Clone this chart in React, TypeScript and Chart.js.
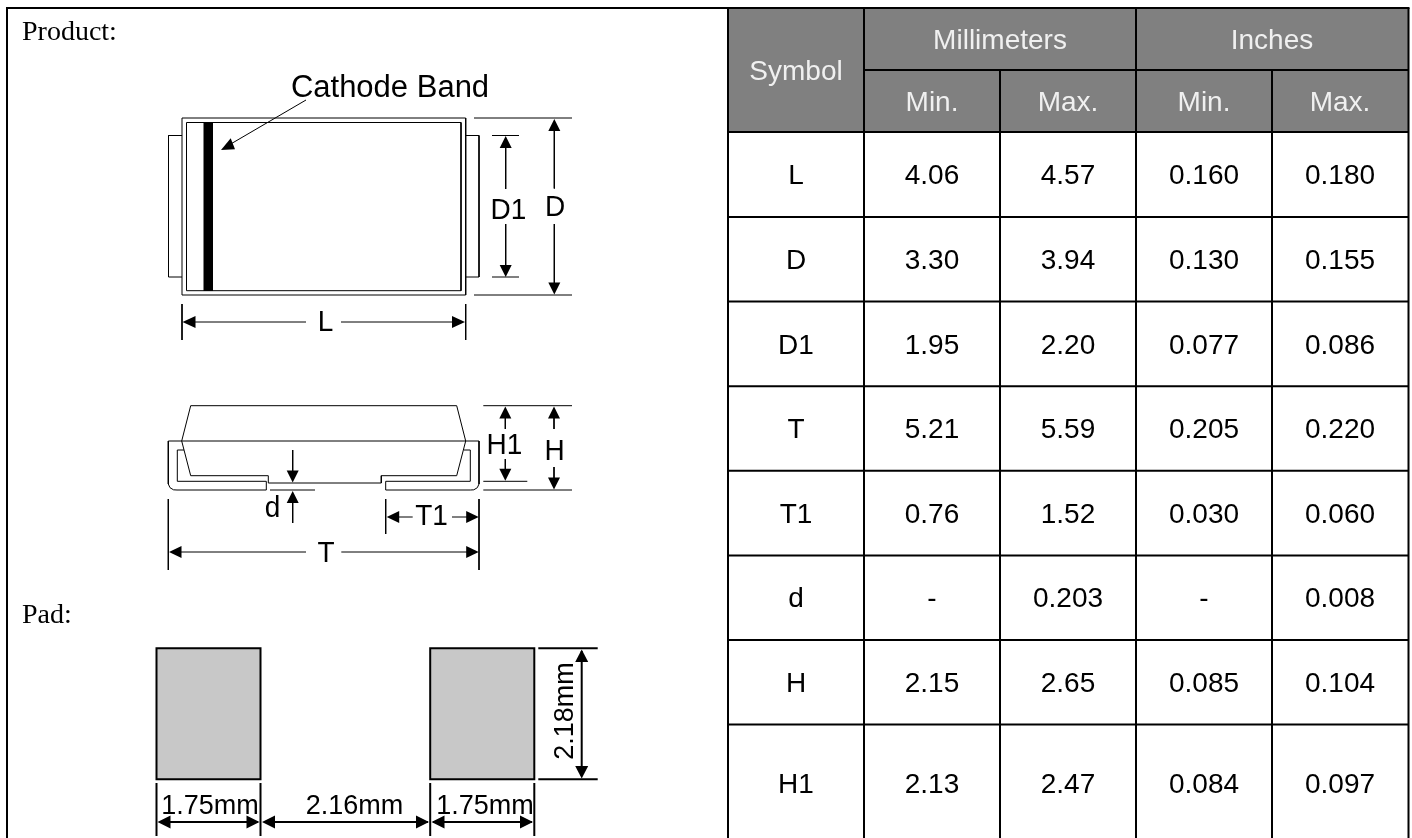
import React, { useEffect, useRef } from "react";
import { Chart, registerables } from "chart.js";

Chart.register(...registerables);

// ---- table contents ----
const symbols = ["L", "D", "D1", "T", "T1", "d", "H", "H1"];
const mmMin = ["4.06", "3.30", "1.95", "5.21", "0.76", "-", "2.15", "2.13"];
const mmMax = ["4.57", "3.94", "2.20", "5.59", "1.52", "0.203", "2.65", "2.47"];
const inMin = ["0.160", "0.130", "0.077", "0.205", "0.030", "-", "0.085", "0.084"];
const inMax = ["0.180", "0.155", "0.086", "0.220", "0.060", "0.008", "0.104", "0.097"];
const rowBaselines = [184.3, 268.9, 353.5, 438, 522.6, 607.2, 691.7, 792.7];
const columnCentres = [796, 932, 1068, 1204, 1340];
const rowRules = [132, 217, 301.6, 386.2, 470.8, 555.4, 640, 724.6];

// ---- drawing geometry, as flat x,y lists ----
const frameLines: number[][] = [
  [6, 8, 1409.5, 8],
  [7, 8, 7, 838],
  [728, 8, 728, 838],
  [864, 8, 864, 838],
  [1000, 70, 1000, 838],
  [1136, 8, 1136, 838],
  [1272, 70, 1272, 838],
  [1408.5, 8, 1408.5, 838],
  [864, 70, 1408.5, 70],
  [156.5, 648.3, 260.5, 648.3, 260.5, 779.3, 156.5, 779.3, 156.5, 647.3],
  [430.2, 648.3, 534.3, 648.3, 534.3, 779.3, 430.2, 779.3, 430.2, 647.3],
  [156.5, 783, 156.5, 836],
  [260.5, 783, 260.5, 836],
  [430.2, 783, 430.2, 836],
  [534.3, 783, 534.3, 836],
  [160, 822, 258, 822],
  [264, 822, 428, 822],
  [433, 822, 532, 822],
  [538.3, 648.3, 597.7, 648.3],
  [538.3, 779.3, 597.7, 779.3],
  [581.7, 651, 581.7, 776],
];
const thinLines: number[][] = [
  [182, 118, 465.7, 118, 465.7, 295, 182, 295, 182, 118],
  [186.5, 122.5, 461, 122.5, 461, 290.7, 186.5, 290.7, 186.5, 122.5],
  [182, 135.5, 168.5, 135.5, 168.5, 277, 182, 277],
  [465.7, 135.5, 479, 135.5, 479, 277, 465.7, 277],
  [306, 100, 229, 145],
  [182, 304, 182, 340],
  [465.7, 304, 465.7, 340],
  [190, 322, 306, 322],
  [341, 322, 455, 322],
  [492, 135.5, 519, 135.5],
  [492, 277, 519, 277],
  [505.7, 140, 505.7, 189],
  [505.7, 224, 505.7, 272],
  [474, 118, 572, 118],
  [474, 295, 572, 295],
  [554.3, 125, 554.3, 188.5],
  [554.3, 224, 554.3, 288],
  [181.7, 441, 190.7, 405.7, 456.7, 405.7, 465.7, 441, 456.7, 475.7, 381.3, 475.7, 381.3, 483, 268.3, 483, 268.3, 475.7, 190.7, 475.7, 181.7, 441],
  [168.3, 441, 479, 441],
  [168.3, 441, 168.3, 484, 170, 487.7, 173.5, 489.8, 177, 490, 266.3, 490, 266.3, 481.3, 177.3, 481.3, 177.3, 450, 184, 450],
  [479, 441, 479, 484, 477.3, 487.7, 473.8, 489.8, 470.3, 490, 385.7, 490, 385.7, 481.3, 470.3, 481.3, 470.3, 450, 464, 450],
  [292.7, 450, 292.7, 475],
  [270, 490, 315, 490],
  [292.7, 498, 292.7, 523],
  [168.3, 499, 168.3, 570],
  [479, 499, 479, 570],
  [175, 552, 306, 552],
  [341.3, 552, 472, 552],
  [385.7, 499, 385.7, 534],
  [393, 517, 412.7, 517],
  [452, 517, 472, 517],
  [483.3, 405.7, 572, 405.7],
  [483.3, 481.3, 527.3, 481.3],
  [483.3, 490, 572, 490],
  [505.3, 412, 505.3, 429],
  [505.3, 459, 505.3, 475],
  [554, 412, 554, 429],
  [554, 467, 554, 484],
];
// tip x, tip y, direction (0 right, 1 down, 2 left, 3 up), length, half width
const arrowHeads: number[][] = [
  [182.5, 322, 2, 13, 6], [465, 322, 0, 13, 6],
  [505.7, 136, 3, 12, 6], [505.7, 277, 1, 12, 6],
  [554.3, 119, 3, 12, 6], [554.3, 294.5, 1, 12, 6],
  [292.7, 482.5, 1, 12, 6], [292.7, 491, 3, 12, 6],
  [169, 552, 2, 12.5, 6], [478.7, 552, 0, 12.5, 6],
  [386.7, 517, 2, 12.5, 6], [478.7, 517, 0, 12.5, 6],
  [505.3, 406.5, 3, 12, 6], [505.3, 480.7, 1, 12, 6],
  [554, 406.5, 3, 12, 6], [554, 489.5, 1, 12, 6],
  [157.5, 822, 2, 13, 6.5], [259.5, 822, 0, 13, 6.5],
  [262, 822, 2, 13, 6.5], [429, 822, 0, 13, 6.5],
  [431.5, 822, 2, 13, 6.5], [533, 822, 0, 13, 6.5],
  [581.7, 649.5, 3, 12.5, 6.5], [581.7, 778.5, 1, 12.5, 6.5],
];
const cathodeLeaderHead = [221, 150, 230.7, 138.3, 235, 149.3, 221, 150];
const cathodeBand = [203.5, 122, 213, 122, 213, 291, 203.5, 291, 203.5, 122];
const headerFill = [728, 8, 1408.5, 8, 1408.5, 132, 728, 132, 728, 8];
const padFills = [
  [156.5, 648.3, 260.5, 648.3, 260.5, 779.3, 156.5, 779.3, 156.5, 648.3],
  [430.2, 648.3, 534.3, 648.3, 534.3, 779.3, 430.2, 779.3, 430.2, 648.3],
];

const SANS = '"Liberation Sans", Arial, sans-serif';
const SERIF = '"Liberation Serif", "Times New Roman", serif';
const HEAD = "#f0f0f0";
const INK = "#000000";
const TALL = 1.08;

type Label = { t: string; x: number; y: number; size: number; font?: string; color?: string; align?: CanvasTextAlign; rot?: number; sy?: number };

// ---- free-standing labels ----
const drawingLabels: Label[] = [
  { t: "Product:", x: 22, y: 40, size: 28, font: SERIF, align: "left" },
  { t: "Pad:", x: 22, y: 622.7, size: 28, font: SERIF, align: "left" },
  { t: "Cathode Band", x: 390, y: 96.5, size: 31, align: "center" },
  { t: "L", x: 325.5, y: 330.5, size: 28, align: "center", sy: TALL },
  { t: "D1", x: 508.5, y: 219, size: 28, align: "center", sy: TALL },
  { t: "D", x: 555, y: 216, size: 28, align: "center", sy: TALL },
  { t: "d", x: 272.5, y: 516.7, size: 28, align: "center", sy: TALL },
  { t: "T", x: 326, y: 561.7, size: 28, align: "center", sy: TALL },
  { t: "T1", x: 431.5, y: 525, size: 28, align: "center", sy: TALL },
  { t: "H1", x: 504.5, y: 454.3, size: 28, align: "center", sy: TALL },
  { t: "H", x: 554.5, y: 460, size: 28, align: "center", sy: TALL },
  { t: "1.75mm", x: 210, y: 814, size: 27, align: "center" },
  { t: "2.16mm", x: 354.5, y: 814, size: 27, align: "center" },
  { t: "1.75mm", x: 485, y: 814, size: 27, align: "center" },
  { t: "2.18mm", x: 573.3, y: 711, size: 27, align: "center", rot: -Math.PI / 2 },
];
const headerLabels: Label[] = [
  { t: "Symbol", x: 796, y: 80, size: 28, color: HEAD, align: "center" },
  { t: "Millimeters", x: 1000, y: 49.3, size: 28, color: HEAD, align: "center" },
  { t: "Inches", x: 1272, y: 49.3, size: 28, color: HEAD, align: "center" },
  { t: "Min.", x: 932, y: 111, size: 28, color: HEAD, align: "center" },
  { t: "Max.", x: 1068, y: 111, size: 28, color: HEAD, align: "center" },
  { t: "Min.", x: 1204, y: 111, size: 28, color: HEAD, align: "center" },
  { t: "Max.", x: 1340, y: 111, size: 28, color: HEAD, align: "center" },
];

const toPoints = (flat: number[]) => {
  const pts: { x: number; y: number }[] = [];
  for (let i = 0; i < flat.length; i += 2) pts.push({ x: flat[i], y: flat[i + 1] });
  return pts;
};
const stroke = (flat: number[], width: number) => ({
  data: toPoints(flat),
  borderColor: INK,
  borderWidth: width,
  pointRadius: 0,
  tension: 0,
  fill: false,
  borderCapStyle: "butt" as const,
  borderJoinStyle: "miter" as const,
});
const solid = (flat: number[], color: string) => ({
  data: toPoints(flat),
  borderWidth: 0,
  borderColor: color,
  backgroundColor: color,
  pointRadius: 0,
  tension: 0,
  fill: "shape" as const,
});
const arrowPolygon = ([x, y, dir, len, half]: number[]) => {
  const dx = [1, 0, -1, 0][dir];
  const dy = [0, 1, 0, -1][dir];
  const bx = x - dx * len;
  const by = y - dy * len;
  return [x, y, bx - dy * half, by + dx * half, bx + dy * half, by - dx * half, x, y];
};

const textPlugin = {
  id: "drawingText",
  afterDatasetsDraw(chart: any) {
    const { ctx, scales } = chart;
    const put = (l: Label) => {
      ctx.save();
      ctx.translate(scales.x.getPixelForValue(l.x), scales.y.getPixelForValue(l.y));
      if (l.rot) ctx.rotate(l.rot);
      if (l.sy) ctx.scale(1, l.sy);
      ctx.font = `${l.size}px ${l.font ?? SANS}`;
      ctx.fillStyle = l.color ?? INK;
      ctx.textAlign = l.align ?? "center";
      ctx.textBaseline = "alphabetic";
      ctx.fillText(l.t, 0, 0);
      ctx.restore();
    };
    drawingLabels.forEach(put);
    headerLabels.forEach(put);
    const columns = [symbols, mmMin, mmMax, inMin, inMax];
    columns.forEach((col, c) =>
      col.forEach((t, r) => put({ t, x: columnCentres[c], y: rowBaselines[r], size: 28 }))
    );
  },
};

export default function App() {
  const ref = useRef<HTMLCanvasElement>(null);
  useEffect(() => {
    document.body.style.margin = "0";
    document.body.style.background = "#ffffff";
    const datasets: any[] = [
      ...frameLines.map((l) => stroke(l, 2)),
      ...rowRules.map((y) => stroke([728, y, 1408.5, y], 2)),
      ...thinLines.map((l) => stroke(l, 1)),
      ...arrowHeads.map((a) => solid(arrowPolygon(a), INK)),
      solid(cathodeLeaderHead, INK),
      solid(cathodeBand, INK),
      ...padFills.map((p) => solid(p, "#c8c8c8")),
      solid(headerFill, "#808080"),
    ];
    const chart = new Chart(ref.current!, {
      type: "line",
      data: { datasets },
      plugins: [textPlugin],
      options: {
        animation: false,
        responsive: false,
        devicePixelRatio: 1,
        parsing: { xAxisKey: "x", yAxisKey: "y" },
        layout: { padding: 0 },
        plugins: { legend: { display: false }, tooltip: { enabled: false }, title: { display: false } },
        events: [],
        scales: {
          x: { type: "linear", min: 0, max: 1412, display: false },
          y: { type: "linear", min: 0, max: 838, reverse: true, display: false },
        },
      },
    } as any);
    return () => chart.destroy();
  }, []);
  return <canvas ref={ref} width={1412} height={838} style={{ display: "block" }} />;
}
